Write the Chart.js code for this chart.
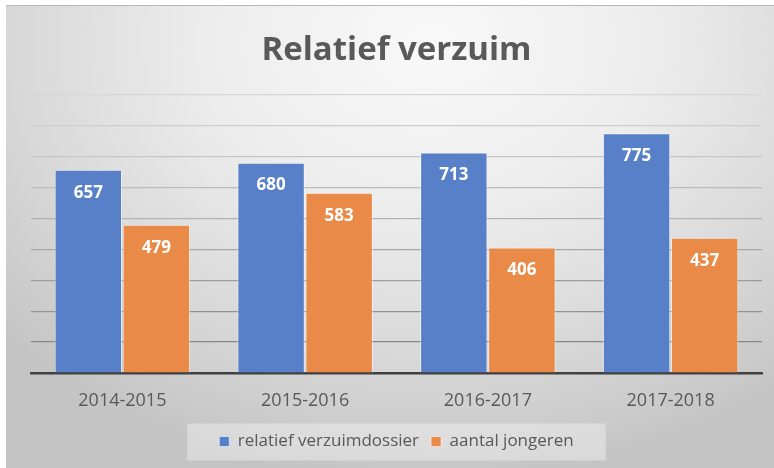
<!DOCTYPE html>
<html lang="nl">
<head>
    <meta charset="UTF-8">
    <title>Relatief verzuim</title>
    <script src="https://cdn.jsdelivr.net/npm/chart.js"></script>
    <style>
        html, body {
            margin: 0;
            padding: 0;
            background: #ffffff;
            width: 774px;
            height: 468px;
            overflow: hidden;
        }
        #frame {
            position: absolute;
            left: 6px;
            top: 5px;
            width: 768px;
            height: 463px;
            border-top: 1px solid #b8b8b8;
            box-sizing: border-box;
            background: radial-gradient(ellipse 75% 95% at 55% 8%, #f9f9f9 0%, #ececec 40%, #d6d6d6 75%, #c4c4c4 100%);
        }
        canvas {
            display: block;
        }
    </style>
</head>
<body>
    <div id="frame">
        <canvas id="verzuimChart" width="768" height="462"></canvas>
    </div>

    <script>
        const schooljaren = ['2014-2015', '2015-2016', '2016-2017', '2017-2018'];
        const verzuimdossiers = [657, 680, 713, 775];
        const jongeren = [479, 583, 406, 437];

        // grijstinten per rasterlijn, onderaan donkerder
        const rasterKleuren = ['#404040', '#878787', '#929292', '#9d9d9d', '#a8a8a8', '#b2b2b2', '#bcbcbc', '#c6c6c6', '#cecece', '#d6d6d6'];

        const labelPlugin = {
            id: 'barLabels',
            afterDatasetsDraw(chart) {
                const ctx = chart.ctx;
                ctx.save();
                ctx.fillStyle = '#ffffff';
                ctx.font = 'bold 17px "Open Sans", sans-serif';
                ctx.textAlign = 'center';
                ctx.textBaseline = 'middle';
                chart.data.datasets.forEach((ds, i) => {
                    chart.getDatasetMeta(i).data.forEach((bar, j) => {
                        ctx.fillText(ds.data[j], bar.x, bar.y + 23);
                    });
                });
                ctx.restore();
            }
        };

        const legendBox = {
            id: 'legendBox',
            beforeDraw(chart) {
                const boxes = chart.legend.legendHitBoxes;
                if (!boxes || !boxes.length) return;
                const left = Math.min(...boxes.map(b => b.left)) - 32;
                const right = Math.max(...boxes.map(b => b.left + b.width)) + 32;
                const mid = boxes[0].top + boxes[0].height / 2;
                const ctx = chart.ctx;
                ctx.save();
                ctx.fillStyle = 'rgba(255,255,255,0.35)';
                ctx.fillRect(left, mid - 18, right - left, 37);
                ctx.restore();
            }
        };

        const ctx = document.getElementById('verzuimChart').getContext('2d');

        new Chart(ctx, {
            type: 'bar',
            data: {
                labels: schooljaren,
                datasets: [{
                    label: 'relatief verzuimdossier',
                    data: verzuimdossiers,
                    backgroundColor: '#5880c8',
                    borderColor: 'rgba(255,255,255,0.55)',
                    borderWidth: 1
                }, {
                    label: 'aantal jongeren',
                    data: jongeren,
                    backgroundColor: '#ea8a48',
                    borderColor: 'rgba(255,255,255,0.55)',
                    borderWidth: 1
                }]
            },
            plugins: [labelPlugin, legendBox],
            options: {
                responsive: false,
                animation: false,
                layout: {
                    padding: { left: 25, right: 12, top: 0, bottom: 8 }
                },
                datasets: {
                    bar: {
                        barPercentage: 0.99,
                        categoryPercentage: 0.745
                    }
                },
                scales: {
                    x: {
                        grid: { display: false },
                        border: { display: true, color: '#404040', width: 2.5 },
                        ticks: {
                            color: '#595959',
                            font: { family: '"Open Sans", sans-serif', size: 18, lineHeight: 1 },
                            padding: 11
                        }
                    },
                    y: {
                        min: 0,
                        max: 900,
                        ticks: { display: false, stepSize: 100 },
                        border: { display: false },
                        grid: {
                            color: c => rasterKleuren[c.index] || '#d6d6d6',
                            lineWidth: 1.2,
                            drawTicks: false
                        }
                    }
                },
                plugins: {
                    title: {
                        display: true,
                        text: 'Relatief verzuim',
                        color: '#595959',
                        font: { family: '"Open Sans", sans-serif', size: 33, weight: 'bold' },
                        padding: { top: 25, bottom: 24 }
                    },
                    legend: {
                        position: 'bottom',
                        labels: {
                            color: '#595959',
                            font: { family: '"Open Sans", sans-serif', size: 17 },
                            boxWidth: 10,
                            boxHeight: 10,
                            padding: 12
                        }
                    },
                    tooltip: { enabled: false }
                }
            }
        });
    </script>
</body>
</html>
